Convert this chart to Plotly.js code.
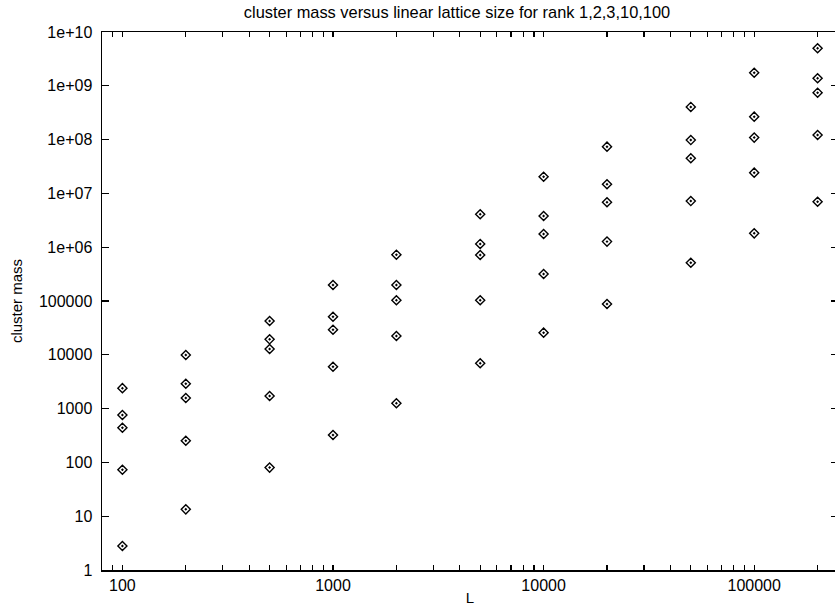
<!DOCTYPE html>
<html>
<head>
<meta charset="utf-8">
<script src="https://cdn.plot.ly/plotly-3.0.1.min.js"></script>
<style>
html, body { margin: 0; padding: 0; overflow: hidden; background: #fff; }
#chart { width: 839px; height: 612px; }
</style>
</head>
<body>
<div id="chart"></div>
<script>
// Linear lattice size L
const latticeSize = [100, 200, 500, 1000, 2000, 5000, 10000, 20000, 50000, 100000, 200000];
// Cluster mass for each rank
const rank1   = [2400, 9900, 42500, 198000, 726000, 4100000, 20400000, 74000000, 405000000, 1750000000, 4980000000];
const rank2   = [760, 2900, 19400, 51000, 198000, 1150000, 3800000, 14800000, 98000000, 267000000, 1380000000];
const rank3   = [440, 1575, 12800, 29300, 103000, 716000, 1760000, 6840000, 44900000, 109000000, 745000000];
const rank10  = [73, 253, 1710, 6000, 22400, 103000, 318000, 1270000, 7200000, 24300000, 122000000];
const rank100 = [2.8, 13.4, 80, 323, 1255, 6950, 25800, 87900, 515000, 1810000, 7000000];

// x-axis ticks: decades labelled, intermediate positions unlabelled
const xTickVals = [80, 90, 100, 200, 300, 400, 500, 600, 700, 800, 900,
  1000, 2000, 3000, 4000, 5000, 6000, 7000, 8000, 9000,
  10000, 20000, 30000, 40000, 50000, 60000, 70000, 80000, 90000,
  100000, 200000];
const xTickText = xTickVals.map(v => ([100, 1000, 10000, 100000].includes(v) ? String(v) : ''));
const yTickVals = [1, 10, 100, 1000, 10000, 100000, 1e6, 1e7, 1e8, 1e9, 1e10];
const yTickText = ['1', '10', '100', '1000', '10000', '100000', '1e+06', '1e+07', '1e+08', '1e+09', '1e+10'];

const series = [
  {name: 'rank 1', y: rank1},
  {name: 'rank 2', y: rank2},
  {name: 'rank 3', y: rank3},
  {name: 'rank 10', y: rank10},
  {name: 'rank 100', y: rank100}
];

const FONT = '"Liberation Sans", Arial, Helvetica, sans-serif';

const traces = series.map(s => ({
  type: 'scatter',
  mode: 'markers',
  name: s.name,
  x: latticeSize,
  y: s.y,
  marker: {symbol: 'diamond-open-dot', size: 7, color: '#000', line: {color: '#000', width: 1.4}},
  showlegend: false,
  cliponaxis: false
}));

const xRange = [Math.log10(80), Math.log10(250000)];

const layout = {
  width: 839,
  height: 612,
  margin: {l: 102, r: 1, t: 32, b: 42},
  paper_bgcolor: '#fff',
  plot_bgcolor: '#fff',
  font: {family: FONT, color: '#000', size: 16},
  title: {
    text: 'cluster mass versus linear lattice size for rank 1,2,3,10,100',
    font: {family: FONT, size: 16.4, color: '#000'},
    xref: 'container', x: 457 / 839, xanchor: 'center',
    yref: 'container', y: 1 - 12 / 612, yanchor: 'middle'
  },
  xaxis: {
    type: 'log',
    range: xRange,
    tickmode: 'array',
    tickvals: xTickVals,
    ticktext: xTickText,
    ticks: 'inside',
    ticklen: 5,
    tickwidth: 1.2,
    tickcolor: '#000',
    showline: true,
    linecolor: '#000',
    linewidth: 1.5,
    mirror: 'ticks',
    showgrid: false,
    zeroline: false,
    tickfont: {family: FONT, size: 16, color: '#000'},
    title: {text: 'L', font: {family: FONT, size: 15, color: '#000'}, standoff: 0}
  },
  yaxis: {
    type: 'log',
    range: [0, 10],
    tickvals: yTickVals,
    ticktext: yTickText,
    ticks: 'inside',
    ticklen: 7,
    tickwidth: 1.2,
    tickcolor: '#000',
    showline: true,
    linecolor: '#000',
    linewidth: 1.5,
    mirror: 'ticks',
    showgrid: false,
    zeroline: false,
    tickfont: {family: FONT, size: 16, color: '#000'},
    ticklabelstandoff: 5,
    title: {text: 'cluster mass', font: {family: FONT, size: 15, color: '#000'}, standoff: 12}
  }
};

Plotly.newPlot('chart', traces, layout, {displayModeBar: false, staticPlot: true});
</script>
</body>
</html>
